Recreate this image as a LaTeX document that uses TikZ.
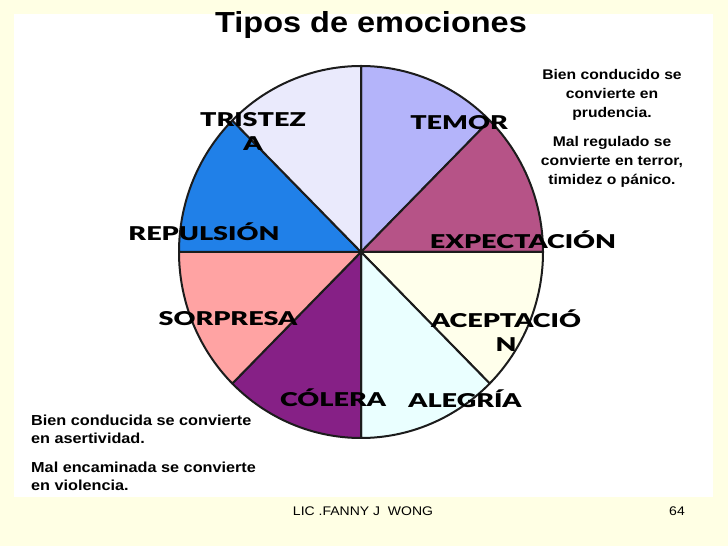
\documentclass[tikz,border=0pt]{standalone}
\usepackage{fontspec}
\setmainfont{Liberation Sans}[FakeStretch=1.12]
\newfontfamily\emofont{Lato Black}[FakeStretch=1.42]
\usetikzlibrary{positioning}

\definecolor{slidebg}{HTML}{FFFFE4}
\definecolor{pieline}{HTML}{1C1C1C}
\definecolor{temorc}{HTML}{B4B4FA}
\definecolor{expectc}{HTML}{B65387}
\definecolor{aceptc}{HTML}{FFFFEB}
\definecolor{alegrc}{HTML}{EAFFFF}
\definecolor{colerc}{HTML}{862086}
\definecolor{sorprc}{HTML}{FFA3A3}
\definecolor{repulc}{HTML}{2080E8}
\definecolor{tristc}{HTML}{EAEAFC}

\begin{document}
\begin{tikzpicture}[x=1pt, y=1pt,
  sector/.style={draw=pieline, line width=2pt, line join=round},
  emo/.style={font=\emofont\fontsize{19}{24}\selectfont, align=center, inner sep=0pt},
  note/.style={font=\bfseries\fontsize{14}{19}\selectfont, align=center, inner sep=0pt},
  remark/.style={font=\bfseries\fontsize{14.5}{18}\selectfont, align=left, anchor=west, inner sep=0pt},
  foot/.style={font=\fontsize{12.5}{14}\selectfont, inner sep=0pt}
]
\useasboundingbox (0,0) rectangle (728,546);
\fill[slidebg] (0,0) rectangle (728,546);
\fill[white] (14,49) rectangle (713,532);

\coordinate (c) at (361,294);

% sectors of the pie
\draw[sector, fill=temorc]  (c) -- ++(90:182 and 186)  arc[start angle=90,  end angle=45,  x radius=182, y radius=186] -- cycle;
\draw[sector, fill=expectc] (c) -- ++(45:182 and 186)  arc[start angle=45,  end angle=0,   x radius=182, y radius=186] -- cycle;
\draw[sector, fill=aceptc]  (c) -- ++(0:182 and 186)   arc[start angle=0,   end angle=-45, x radius=182, y radius=186] -- cycle;
\draw[sector, fill=alegrc]  (c) -- ++(-45:182 and 186) arc[start angle=-45, end angle=-90, x radius=182, y radius=186] -- cycle;
\draw[sector, fill=colerc]  (c) -- ++(-90:182 and 186) arc[start angle=-90, end angle=-135, x radius=182, y radius=186] -- cycle;
\draw[sector, fill=sorprc]  (c) -- ++(225:182 and 186) arc[start angle=225, end angle=180, x radius=182, y radius=186] -- cycle;
\draw[sector, fill=repulc]  (c) -- ++(180:182 and 186) arc[start angle=180, end angle=135, x radius=182, y radius=186] -- cycle;
\draw[sector, fill=tristc]  (c) -- ++(135:182 and 186) arc[start angle=135, end angle=90,  x radius=182, y radius=186] -- cycle;

\node[font=\bfseries\fontsize{29}{32}\selectfont, inner sep=0pt] (title) at (371,521) {Tipos de emociones};

\node[emo] (tristeza) at (253,414) {TRISTEZ\\A};
\node[emo] (temor) at (459,423) {TEMOR};
\node[emo] (repulsion) at (204,314) {REPULSIÓN};
\node[emo] (expectacion) at (523,306) {EXPECTACIÓN};
\node[emo] (sorpresa) at (228,227) {SORPRESA};
\node[emo] (aceptacion) at (506,215) {ACEPTACIÓ\\N};
\node[emo] (colera) at (333,148) {CÓLERA};
\node[emo] (alegria) at (465,147) {ALEGRÍA};

\node[note] (temorbien) at (612,451) {Bien conducido se\\convierte en\\prudencia.};
\node[note] (temormal) at (612,384) {Mal regulado se\\convierte en terror,\\timidez o pánico.};

\node[remark] (colerabien) at (31,117) {Bien conducida se convierte\\en asertividad.};
\node[remark] (coleramal) at (31,70) {Mal encaminada se convierte\\en violencia.};

\node[foot] (autor) at (363,35) {LIC .FANNY J\ \ WONG};
\node[foot] (pagina) at (677,35) {64};
\end{tikzpicture}
\end{document}
